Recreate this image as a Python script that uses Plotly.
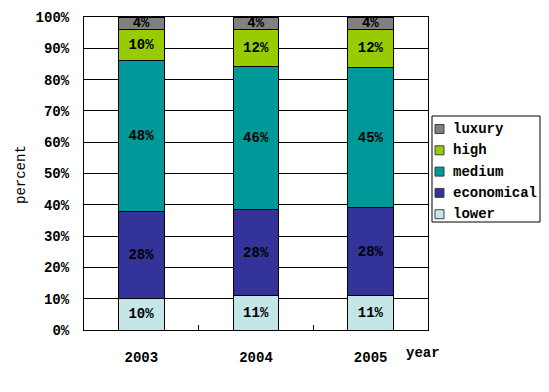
import plotly.graph_objects as go

years = ["2003", "2004", "2005"]
lower = [10, 11, 11]
economical = [28, 28, 28]
medium = [48, 46, 45]
high = [10, 12, 12]
luxury = [4, 4, 4]

series = [
    ("lower", lower, "#c4e6e6"),
    ("economical", economical, "#333399"),
    ("medium", medium, "#009999"),
    ("high", high, "#99cc00"),
    ("luxury", luxury, "#808080"),
]

mono = "Liberation Mono"
FS = 14
OFF = 8  # page body margin offset

# plot area in screen pixels
L, R, T, B = 84, 428, 17, 330
W, H = R - L, B - T


def px(x):
    return (x - L) / W


def py(y):
    return (B - y) / H


fig = go.Figure()
for name, vals, col in series:
    fig.add_trace(go.Bar(
        x=years, y=vals, name=name,
        marker=dict(color=col, line=dict(color="black", width=1)),
        text=[f"<b>{v}%</b>" for v in vals],
        textposition="inside", insidetextanchor="middle",
        textfont=dict(family=mono, size=FS, color="black"),
        constraintext="none",
        width=0.4,
        showlegend=False,
    ))

shapes = [dict(type="rect", xref="paper", yref="paper",
               x0=px(432), x1=px(540), y0=py(116), y1=py(222),
               line=dict(color="black", width=1), fillcolor="white", layer="above")]
annotations = []
legend_items = list(reversed(series))
for i, (name, vals, col) in enumerate(legend_items):
    yc = 129 + i * 21.3
    shapes.append(dict(type="rect", xref="paper", yref="paper",
                       x0=px(435), x1=px(444), y0=py(yc - 4.5), y1=py(yc + 4.5),
                       line=dict(color="#404040", width=1), fillcolor=col, layer="above"))
    annotations.append(dict(text=f"<b>{name}</b>", x=px(451), y=py(yc), xref="paper", yref="paper",
                            xanchor="left", yanchor="middle", showarrow=False,
                            font=dict(family=mono, size=FS, color="black")))

annotations.append(dict(text="<b>year</b>", x=px(404), y=py(353), xref="paper", yref="paper",
                        xanchor="left", yanchor="middle", showarrow=False,
                        font=dict(family=mono, size=FS, color="black")))
annotations.append(dict(text="percent", x=px(21), y=py(175), xref="paper", yref="paper",
                        xanchor="center", yanchor="middle", showarrow=False, textangle=-90,
                        font=dict(family=mono, size=FS, color="black")))

fig.update_layout(
    width=549, height=392,
    barmode="stack", barnorm="percent",
    paper_bgcolor="white", plot_bgcolor="white",
    margin=dict(l=L - OFF, r=549 - R + OFF, t=T - OFF, b=392 - B + OFF, autoexpand=False),
    showlegend=False,
    shapes=shapes,
    annotations=annotations,
)

fig.update_xaxes(
    automargin=False,
    showline=True, linecolor="black", linewidth=1, mirror=True,
    ticks="inside", tickson="boundaries", ticklen=5, tickcolor="black",
    tickfont=dict(family=mono, size=FS, color="black"),
    tickprefix="<b>", ticksuffix="</b>",
    ticklabelstandoff=14,
    showgrid=False,
)
fig.update_yaxes(
    automargin=False,
    range=[0, 100], dtick=10, ticksuffix="%</b>", tickprefix="<b>",
    showline=True, linecolor="black", linewidth=1, mirror=True,
    showgrid=True, gridcolor="black", gridwidth=1,
    ticks="", tickfont=dict(family=mono, size=FS, color="black"),
    ticklabelstandoff=11,
    zeroline=False,
)

fig.write_html("out.html")
